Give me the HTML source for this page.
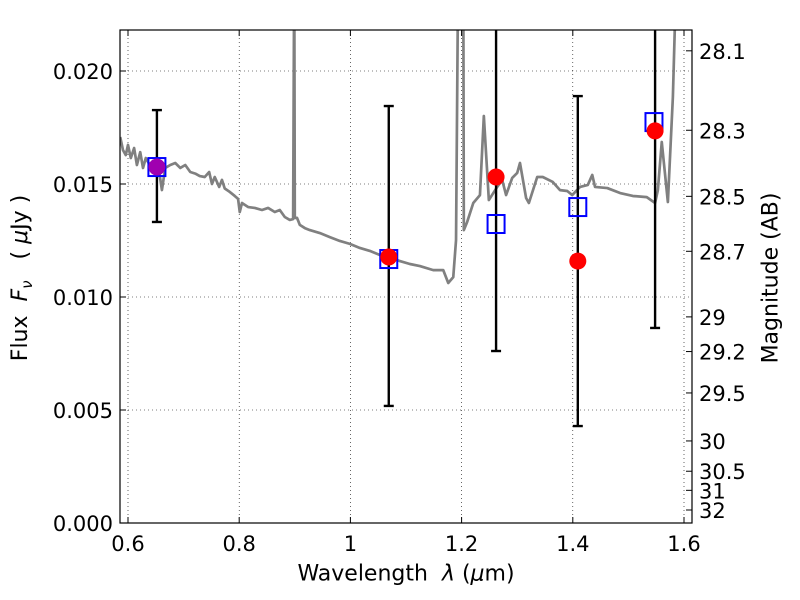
<!DOCTYPE html>
<html><head><meta charset="utf-8"><style>
body{margin:0;background:#fff}
svg{display:block;font-family:"DejaVu Sans","Liberation Sans",sans-serif}
</style></head><body>
<svg id="c" width="800" height="600"></svg>
<script>
const specWl=[0.586,0.591,0.596,0.600,0.605,0.611,0.616,0.622,0.627,0.632,0.640,0.645,0.654,0.661,0.667,0.676,0.685,0.694,0.703,0.712,0.721,0.729,0.738,0.746,0.751,0.756,0.764,0.769,0.774,0.783,0.792,0.798,0.801,0.805,0.816,0.828,0.841,0.852,0.864,0.873,0.882,0.891,0.897,0.899,0.900,0.904,0.909,0.918,0.927,0.945,0.963,0.981,0.999,1.017,1.035,1.053,1.071,1.089,1.107,1.125,1.149,1.167,1.176,1.185,1.190,1.194,1.203,1.204,1.210,1.221,1.233,1.240,1.249,1.264,1.273,1.280,1.291,1.300,1.305,1.316,1.321,1.336,1.346,1.364,1.377,1.390,1.399,1.413,1.427,1.435,1.440,1.462,1.485,1.508,1.533,1.548,1.553,1.560,1.571,1.580,1.587];
const specFlux=[0.01708,0.01650,0.01628,0.01673,0.01615,0.01659,0.01584,0.01641,0.01571,0.01615,0.01580,0.01602,0.01588,0.01473,0.01571,0.01584,0.01593,0.01571,0.01584,0.01553,0.01546,0.01535,0.01531,0.01553,0.01500,0.01531,0.01487,0.01518,0.01480,0.01465,0.01447,0.01434,0.01376,0.01416,0.01398,0.01394,0.01385,0.01394,0.01376,0.01385,0.01354,0.01341,0.01345,0.025,0.01350,0.01350,0.01319,0.01305,0.01296,0.01283,0.01265,0.01248,0.01235,0.01217,0.01204,0.01186,0.01177,0.01159,0.01146,0.01137,0.01119,0.01119,0.01062,0.01088,0.01252,0.025,0.025,0.01296,0.01332,0.01416,0.01451,0.01801,0.01429,0.01487,0.01518,0.01451,0.01527,0.01549,0.01593,0.01438,0.01416,0.01531,0.01531,0.01509,0.01473,0.01469,0.01451,0.01487,0.01496,0.01540,0.01487,0.01482,0.01460,0.01447,0.01442,0.01416,0.01473,0.01686,0.01420,0.01885,0.025];
const obsWl=[0.652,1.069,1.262,1.409,1.548];
const obsFlux=[0.01575,0.01177,0.01531,0.01159,0.01735];
const errLo=[0.01332,0.00518,0.00761,0.00429,0.00863];
const errHi=[0.01827,0.01845,0.0245,0.01889,0.0245];
const modWl=[0.652,1.069,1.262,1.409,1.546];
const modFlux=[0.01575,0.01168,0.01323,0.01398,0.01774];
const xTicks=[0.6,0.8,1.0,1.2,1.4,1.6];
const xTickLabels=["0.6","0.8","1","1.2","1.4","1.6"];
const yTicks=[0,0.005,0.010,0.015,0.020];
const yTickLabels=["0.000","0.005","0.010","0.015","0.020"];
const magTicks=[28.1,28.3,28.5,28.7,29,29.2,29.5,30,30.5,31,32];

const L=120,R=692,T=30,B=523;
const X=v=>128+(v-0.6)*556;
const Y=v=>523-v*22600;
const svg=document.getElementById('c');
const NS='http://www.w3.org/2000/svg';
function mk(tag,attrs,parent){const e=document.createElementNS(NS,tag);for(const k in attrs)e.setAttribute(k,attrs[k]);(parent||svg).appendChild(e);return e;}
const defs=mk('defs',{});const cp=mk('clipPath',{id:'clip'},defs);mk('rect',{x:L,y:T,width:R-L,height:B-T},cp);

xTicks.forEach(t=>{const g=mk('line',{x1:X(t),x2:X(t),y1:T,y2:B,stroke:'#000','stroke-width':0.6,'stroke-dasharray':'1,3'});
});
yTicks.forEach(t=>{const g=mk('line',{x1:L,x2:R,y1:Y(t),y2:Y(t),stroke:'#000','stroke-width':0.6,'stroke-dasharray':'1,3'});
});

const plot=mk('g',{'clip-path':'url(#clip)'});

const sp=mk('polyline',{points:specWl.map((w,i)=>X(w)+','+Y(specFlux[i])).join(' '),fill:'none',stroke:'#808080','stroke-width':2.7,'stroke-linejoin':'round'},plot);


obsWl.forEach((w,i)=>{const x=X(w);
const l=mk('line',{x1:x,x2:x,y1:Y(errLo[i]),y2:Y(errHi[i]),stroke:'#000','stroke-width':2.4},plot);

[errLo[i],errHi[i]].forEach(v=>{const c=mk('line',{x1:x-5,x2:x+5,y1:Y(v),y2:Y(v),stroke:'#000','stroke-width':2.4},plot);
});});

modWl.forEach((w,i)=>{const r=mk('rect',{x:X(w)-8.5,y:Y(modFlux[i])-9,width:17,height:18,fill:'none',stroke:'#0000ff','stroke-width':2},plot);
});
obsWl.forEach((w,i)=>{const c=mk('circle',{cx:X(w),cy:Y(obsFlux[i]),r:8.5,fill:i===0?'#a000b0':'#ff0000'},plot);
});

const fr=mk('rect',{x:L,y:T,width:R-L,height:B-T,fill:'none',stroke:'#000','stroke-width':1.2});


xTicks.forEach((t,i)=>{const x=X(t);mk('line',{x1:x,x2:x,y1:B,y2:B-6,stroke:'#000'});mk('line',{x1:x,x2:x,y1:T,y2:T+6,stroke:'#000'});
const tx=mk('text',{x:x,y:B+28,'font-size':21,'text-anchor':'middle'});tx.textContent=xTickLabels[i];
});
yTicks.forEach((t,i)=>{const y=Y(t);mk('line',{x1:L,x2:L+6,y1:y,y2:y,stroke:'#000'});
const tx=mk('text',{x:L-7,y:y+8,'font-size':21,'text-anchor':'end'});tx.textContent=yTickLabels[i];
});
magTicks.forEach(m=>{const y=Y(Math.pow(10,(23.9-m)/2.5));mk('line',{x1:R,x2:R-6,y1:y,y2:y,stroke:'#000'});
const tx=mk('text',{x:R+7,y:y+8,'font-size':21});tx.textContent=String(m);
});
</script>
<div style="position:absolute;left:0;top:0;width:800px;height:600px;pointer-events:none;font-family:'DejaVu Sans','Liberation Sans',sans-serif">
<div style="position:absolute;left:406px;top:574px;font-size:22px;white-space:nowrap;transform:translate(-50%,-50%)">Wavelength&nbsp; <i>λ</i> (<i>μ</i>m)</div>
<div style="position:absolute;left:22px;top:278px;font-size:22px;white-space:nowrap;transform:translate(-50%,-50%) rotate(-90deg)">Flux&nbsp; <i>F<sub style="font-size:15px">ν</sub></i>&nbsp;&nbsp; ( <i>μ</i>Jy )</div>
<div style="position:absolute;left:771px;top:278px;font-size:22px;white-space:nowrap;transform:translate(-50%,-50%) rotate(-90deg)">Magnitude (AB)</div>
</div>
</body></html>
